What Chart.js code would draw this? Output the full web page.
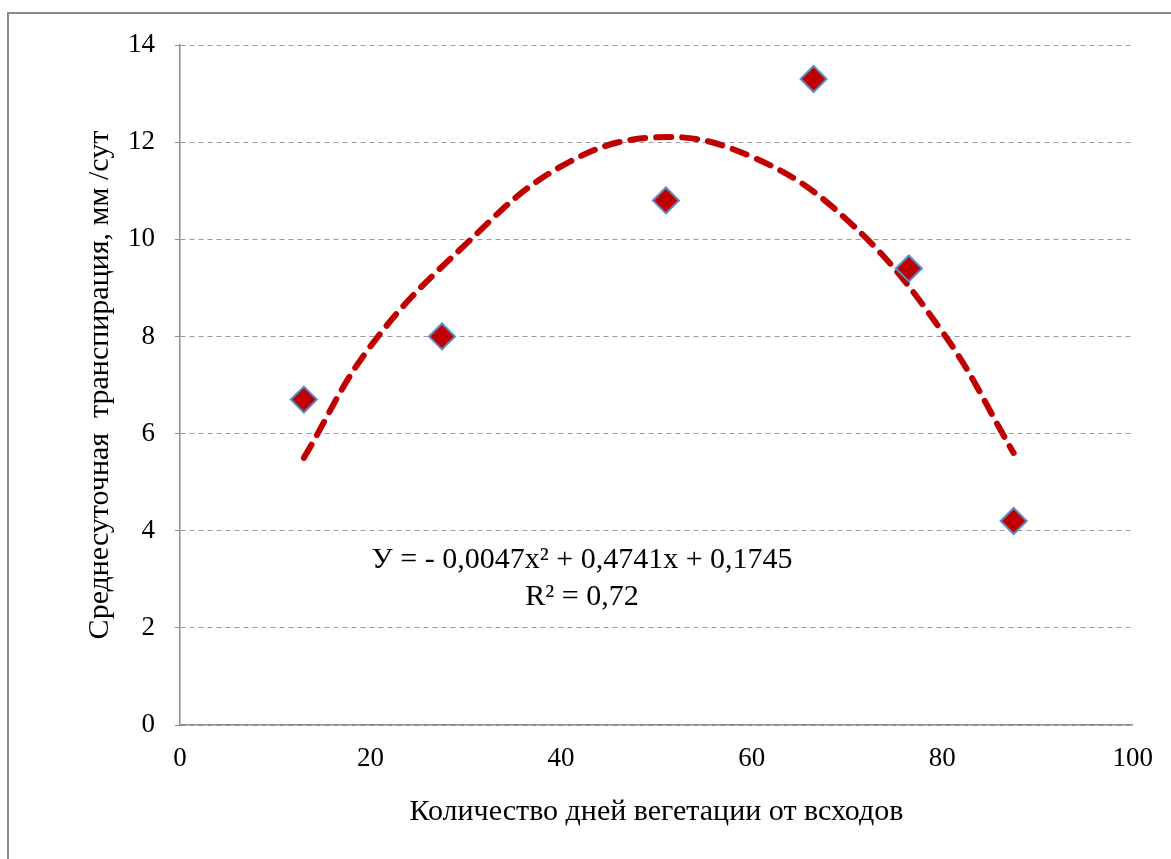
<!DOCTYPE html>
<html>
<head>
<meta charset="utf-8">
<script src="https://cdn.jsdelivr.net/npm/chart.js@4/dist/chart.umd.min.js"></script>
<style>
  body { margin: 0; background: #fff; overflow: hidden; }
  #wrap { position: relative; width: 1171px; height: 859px; }
  #frame { position: absolute; left: 7px; top: 12px; width: 1300px; height: 1000px; border: 2px solid #8a8a8a; }
  canvas { position: absolute; left: 0; top: 0; }
</style>
</head>
<body>
<div id="wrap">
  <div id="frame"></div>
  <canvas id="scatterChart" width="1171" height="859"></canvas>
</div>
<script>
// observed points
const days = [13, 27.5, 51, 66.5, 76.5, 87.5];
const transpiration = [6.7, 8.0, 10.8, 13.3, 9.4, 4.2];

// trend curve
const trendDays = [13, 20, 30, 40, 50, 60, 70, 80, 87.5];
const trendValues = [5.5, 7.8, 9.9, 11.5, 12.1, 11.7, 10.4, 8.1, 5.6];

const xTicks = [0, 20, 40, 60, 80, 100];
const yTicks = [0, 2, 4, 6, 8, 10, 12, 14];

const equationLines = ["У = - 0,0047x² + 0,4741x + 0,1745", "R² = 0,72"];

const FONT = "'Liberation Serif', 'Times New Roman', serif";

const points = days.map((d, i) => ({ x: d, y: transpiration[i] }));
const trend = trendDays.map((d, i) => ({ x: d, y: trendValues[i] }));

const equationPlugin = {
    id: "equation",
    afterDatasetsDraw(chart) {
        const ctx = chart.ctx;
        const xs = chart.scales.x;
        const ys = chart.scales.y;
        const cx = xs.getPixelForValue(42.2);
        const cy = ys.getPixelForValue(3.4);
        ctx.save();
        ctx.fillStyle = "#000";
        ctx.font = "30px " + FONT;
        ctx.textAlign = "center";
        ctx.textBaseline = "middle";
        ctx.fillText(equationLines[0], cx, cy);
        ctx.fillText(equationLines[1], cx, cy + 37);
        ctx.restore();
    }
};

const CHART = document.getElementById("scatterChart");

let scatterChart = new Chart(CHART, {
    type: "scatter",
    data: {
        datasets: [{
            label: "observed",
            data: points,
            pointStyle: "rectRot",
            pointRadius: 13,
            pointHoverRadius: 13,
            backgroundColor: "#c00000",
            borderColor: "#5b8cc8",
            borderWidth: 2
        }, {
            label: "trend",
            data: trend,
            showLine: true,
            pointRadius: 0,
            borderColor: "#c00000",
            borderWidth: 6,
            borderDash: [15, 11],
            borderCapStyle: "round",
            tension: 0.4
        }]
    },
    options: {
        responsive: false,
        animation: false,
        layout: { padding: { top: 45, right: 33, left: 0, bottom: 0 } },
        plugins: {
            legend: { display: false },
            tooltip: { enabled: false }
        },
        scales: {
            x: {
                min: 0,
                max: 100,
                afterBuildTicks: (scale) => { scale.ticks = xTicks.map(v => ({ value: v })); },
                afterFit: (scale) => { scale.height = 134; },
                grid: { display: false, drawTicks: false },
                border: { display: true, color: "#8c8c8c", width: 1.5 },
                ticks: { color: "#000", font: { family: FONT, size: 27 }, padding: 18, maxRotation: 0 },
                title: {
                    display: true,
                    text: "Количество дней вегетации от всходов",
                    color: "#000",
                    font: { family: FONT, size: 30 },
                    padding: { top: 10, bottom: 29 }
                }
            },
            y: {
                min: 0,
                max: 14,
                afterBuildTicks: (scale) => { scale.ticks = yTicks.map(v => ({ value: v })); },
                afterFit: (scale) => { scale.width = 180; },
                grid: {
                    color: "#9a9a9a",
                    lineWidth: 1,
                    tickLength: 5,
                    tickColor: "#8c8c8c"
                },
                border: { display: true, color: "#8c8c8c", width: 1.5, dash: [5, 4] },
                ticks: { color: "#000", font: { family: FONT, size: 27 }, padding: 20 },
                title: {
                    display: true,
                    text: "Среднесуточная  транспирация, мм /сут",
                    color: "#000",
                    font: { family: FONT, size: 30 },
                    padding: { top: 82, bottom: 10 }
                }
            }
        }
    },
    plugins: [equationPlugin]
});
</script>
</body>
</html>
